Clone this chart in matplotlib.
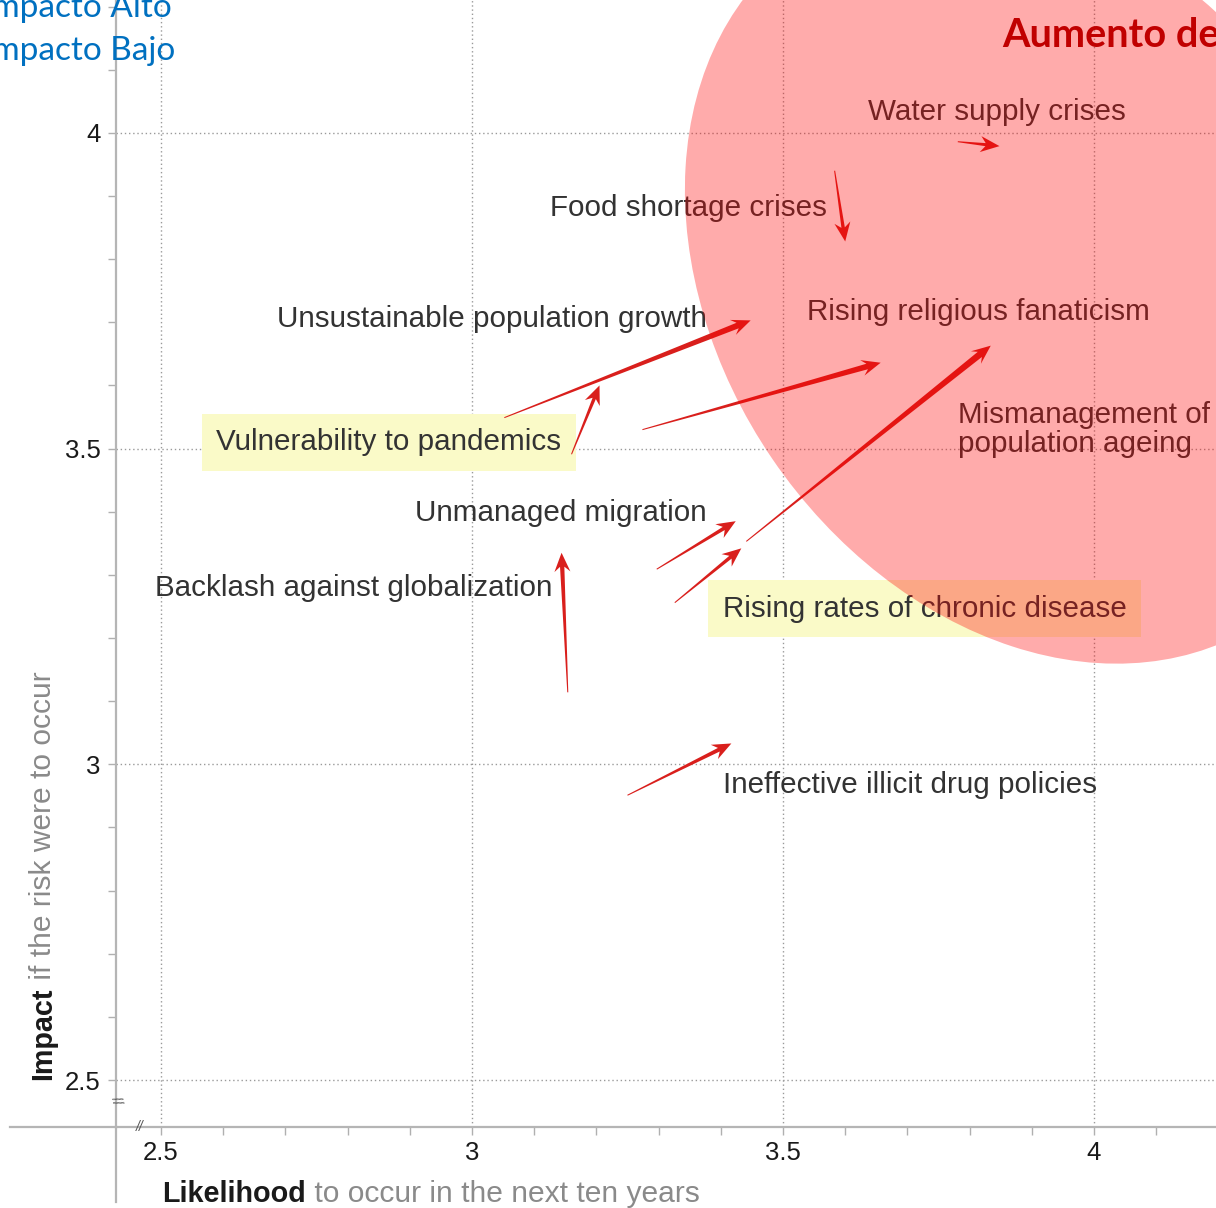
import matplotlib
matplotlib.use('Agg')
import matplotlib.pyplot as plt
from matplotlib.patches import Ellipse, Polygon
from matplotlib.lines import Line2D
from matplotlib.ticker import MultipleLocator
import numpy as np

# ---------------- data ----------------
risk_labels = [
    "Water supply crises",
    "Food shortage crises",
    "Unsustainable population growth",
    "Rising religious fanaticism",
    "Vulnerability to pandemics",
    "Mismanagement of\npopulation ageing",
    "Unmanaged migration",
    "Backlash against globalization",
    "Rising rates of chronic disease",
    "Ineffective illicit drug policies",
]
# label anchor = left end of the (last line's) baseline
label_x = [3.636, 3.126, 2.687, 3.538, 2.589, 3.781, 2.908, 2.490, 3.403, 3.403]
label_y = [4.021, 3.869, 3.693, 3.703, 3.497, 3.495, 3.386, 3.266, 3.234, 2.954]
highlighted = [False, False, False, False, True, False, False, False, True, False]

# arrows: previous position -> current position (likelihood, impact)
arrow_x0 = [3.781, 3.583, 3.052, 3.274, 3.160, 3.441, 3.297, 3.154, 3.326, 3.250]
arrow_y0 = [3.986, 3.940, 3.549, 3.530, 3.491, 3.353, 3.309, 3.114, 3.256, 2.951]
arrow_x1 = [3.848, 3.600, 3.448, 3.657, 3.205, 3.834, 3.424, 3.144, 3.433, 3.417]
arrow_y1 = [3.979, 3.828, 3.703, 3.636, 3.600, 3.663, 3.385, 3.335, 3.342, 3.033]

x_ticks = [2.5, 3.0, 3.5, 4.0]
x_tick_labels = ["2.5", "3", "3.5", "4"]
y_ticks = [2.5, 3.0, 3.5, 4.0]
y_tick_labels = ["2.5", "3", "3.5", "4"]

# ---------------- figure ----------------
W, H = 1216, 1208
fig = plt.figure(figsize=(W / 100, H / 100), dpi=100)
fig.patch.set_facecolor('white')

def fx(px):
    return px / W

def fy(py):
    return 1 - py / H

ax = fig.add_axes([fx(116), fy(1127), fx(1216) - fx(116), fy(0) - fy(1127)])
ax.set_xlim(2.4277, 4.1961)
ax.set_ylim(2.4256, 4.2104)

for s in ['top', 'right']:
    ax.spines[s].set_visible(False)
for s in ['left', 'bottom']:
    ax.spines[s].set_color('#b5b5b5')
    ax.spines[s].set_linewidth(1.6)

ax.set_xticks(x_ticks)
ax.set_xticklabels(x_tick_labels)
ax.set_yticks(y_ticks)
ax.set_yticklabels(y_tick_labels)
ax.xaxis.set_minor_locator(MultipleLocator(0.1))
ax.yaxis.set_minor_locator(MultipleLocator(0.1))
ax.tick_params(which='both', direction='out', length=6, width=1, color='#b0b0b0')
ax.tick_params(axis='x', which='major', labelsize=18.5, labelcolor='#1a1a1a', pad=4)
ax.tick_params(axis='y', which='major', labelsize=18.5, labelcolor='#1a1a1a', pad=5)
for lab in ax.get_xticklabels() + ax.get_yticklabels():
    lab.set_fontfamily('Liberation Sans')

ax.grid(True, which='major', linestyle=(0, (1, 2)), color='#9a9a9a', linewidth=1)
ax.set_axisbelow(True)

# extended axis lines
fig.add_artist(Line2D([fx(116), fx(116)], [fy(1202), fy(1127)], color='#b5b5b5', lw=1.6))
fig.add_artist(Line2D([fx(10), fx(116)], [fy(1127), fy(1127)], color='#b5b5b5', lw=1.6))
# axis break marks
fig.text(fx(140), fy(1127), '//', fontsize=10, color='#555555', ha='center', va='center',
         style='italic', family='Liberation Sans')
fig.text(fx(116), fy(1101), '//', fontsize=10, color='#555555', ha='center', va='center',
         rotation=-75, family='Liberation Sans')

# ---------------- labels ----------------
text_kw = dict(fontsize=21.3, color='#333333', family='Liberation Sans', zorder=3)
for lbl, x, y, hl in zip(risk_labels, label_x, label_y, highlighted):
    kw = dict(text_kw)
    if hl:
        kw['bbox'] = dict(boxstyle='square,pad=0.5', facecolor='#fafac8', edgecolor='none')
    ax.text(x, y, lbl, ha='left', va='baseline', linespacing=1.03, **kw)

# ---------------- arrows ----------------
def tapered_arrow(ax, x0, y0, x1, y1, color='#d91f1c'):
    T = ax.transData
    p0 = T.transform((x0, y0))
    p1 = T.transform((x1, y1))
    d = p1 - p0
    L = np.hypot(d[0], d[1])
    u = d / L
    n = np.array([-u[1], u[0]])
    hl, hw, notch = 19.0, 16.0, 5.0
    w0 = 1.0
    ws = min(2.5 + 0.013 * L, 7.0)
    s = p1 - (hl - notch) * u
    b = p1 - hl * u
    pts = np.array([p0 + w0 / 2 * n, s + ws / 2 * n, b + hw / 2 * n, p1,
                    b - hw / 2 * n, s - ws / 2 * n, p0 - w0 / 2 * n])
    pts = T.inverted().transform(pts)
    ax.add_patch(Polygon(pts, closed=True, facecolor=color, edgecolor='none', zorder=4))

for x0, y0, x1, y1 in zip(arrow_x0, arrow_y0, arrow_x1, arrow_y1):
    tapered_arrow(ax, x0, y0, x1, y1)

# ---------------- highlight ellipse (overlay, in figure inches) ----------------
ell = Ellipse((10.335, (H - 281) / 100), 8.20, 6.32, angle=-55.7,
              facecolor='#ff0000', alpha=0.33, edgecolor='none', zorder=5,
              transform=fig.dpi_scale_trans, clip_on=False)
ax.add_patch(ell)

# ---------------- annotations (overlay text) ----------------
fig.text(fx(-17), fy(17), 'Impacto Alto', fontsize=24, color='#0070c0', family='Lato',
         ha='left', va='baseline')
fig.text(fx(-17), fy(60), 'Impacto Bajo', fontsize=24, color='#0070c0', family='Lato',
         ha='left', va='baseline')
fig.text(fx(1002), fy(47), 'Aumento de', fontsize=28.5, color='#c00000', family='Lato',
         fontweight='bold', ha='left', va='baseline', zorder=10)

# ---------------- axis titles ----------------
t1 = fig.text(fx(162), fy(1202), 'Likelihood', fontsize=20.7, fontweight='bold',
              color='#1a1a1a', family='Liberation Sans', ha='left', va='baseline')
t2 = fig.text(fx(51), fy(1080), 'Impact', fontsize=20.7, fontweight='bold',
              color='#1a1a1a', family='Liberation Sans', ha='left', va='baseline',
              rotation=90, rotation_mode='anchor')
fig.canvas.draw()
r = fig.canvas.get_renderer()
bb1 = t1.get_window_extent(r)
bb2 = t2.get_window_extent(r)
fig.text(bb1.x1 / W, fy(1202), ' to occur in the next ten years', fontsize=21.6,
         color='#8a8a8a', family='Liberation Sans', ha='left', va='baseline')
fig.text(fx(51), bb2.y1 / H, ' if the risk were to occur', fontsize=21.6,
         color='#8a8a8a', family='Liberation Sans', ha='left', va='baseline',
         rotation=90, rotation_mode='anchor')

fig.savefig('out.png', dpi=100, facecolor='white')
